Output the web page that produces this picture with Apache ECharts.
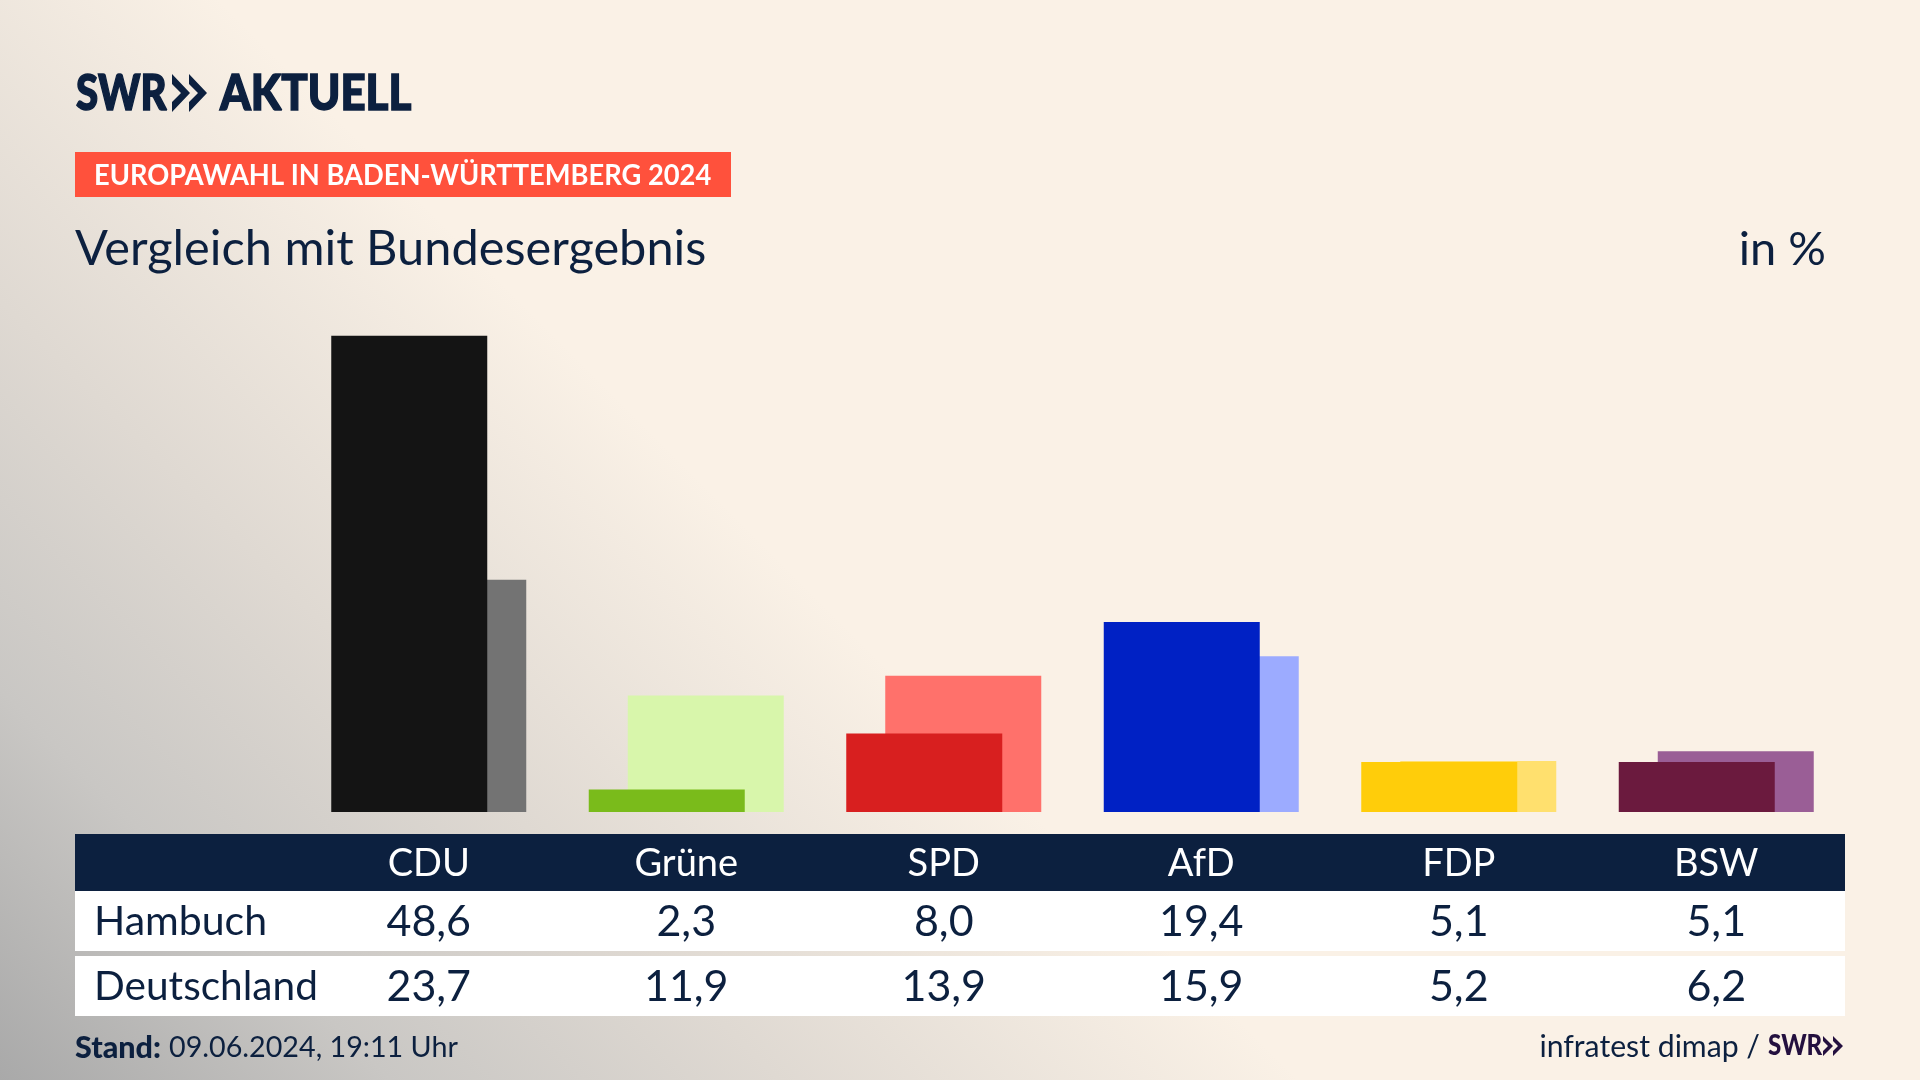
<!DOCTYPE html>
<html>
<head>
<meta charset="utf-8">
<script src="https://cdn.jsdelivr.net/npm/echarts@6/dist/echarts.min.js"></script>
<style>
html, body { margin: 0; padding: 0; }
#main { width: 1920px; height: 1080px; }
</style>
</head>
<body>
<div id="main"></div>
<script>
var categories = ['CDU', 'Grüne', 'SPD', 'AfD', 'FDP', 'BSW'];
var hambuch = [48.6, 2.3, 8.0, 19.4, 5.1, 5.1];
var deutschland = [23.7, 11.9, 13.9, 15.9, 5.2, 6.2];
var frontColors = ['#141414', '#7abb1b', '#d81f1f', '#0021c4', '#ffcd0a', '#6b1a3e'];
var backColors = ['#737373', '#d8f6ab', '#ff716b', '#9cabff', '#ffe06e', '#9a5e96'];

var navy = '#0c203f';
var font = 'Lato';

function fmt(v) {
    return v.toFixed(1).replace('.', ',');
}

var myChart = echarts.init(document.getElementById('main'), null, { renderer: 'canvas' });

// Tabelle als zusaetzliche x-Achsen, damit die Spalten zu den Balken passen
function tableAxis(offset, fontSize, formatter, color) {
    return {
        type: 'category',
        gridIndex: 0,
        position: 'bottom',
        offset: offset,
        data: categories,
        axisLine: { show: false },
        axisTick: { show: false },
        axisLabel: {
            show: true,
            interval: 0,
            margin: 0,
            verticalAlign: 'middle',
            fontFamily: font,
            fontSize: fontSize,
            color: color,
            formatter: formatter
        }
    };
}

var option = {
    backgroundColor: new echarts.graphic.LinearGradient(0, 1080, 650, 430, [
        { offset: 0, color: '#a9a9a9' },
        { offset: 0.3, color: '#c9c7c4' },
        { offset: 0.6, color: '#dfd9d2' },
        { offset: 1, color: '#faf1e6' }
    ], true),
    animation: false,
    grid: { left: 300, right: 75, top: 322, bottom: 268 },
    yAxis: { type: 'value', min: 0, max: 50, show: false },
    xAxis: [
        { type: 'category', data: categories, axisLine: { show: false }, axisTick: { show: false }, axisLabel: { show: false } },
        tableAxis(52, 38, function (v) { return v; }, '#ffffff'),
        tableAxis(110, 43, function (v, i) { return fmt(hambuch[i]); }, navy),
        tableAxis(175, 43, function (v, i) { return fmt(deutschland[i]); }, navy)
    ],
    series: [
        {
            name: 'Hambuch',
            type: 'bar',
            z: 3,
            barWidth: 156,
            barGap: '-75%',
            data: hambuch.map(function (v, i) {
                return { value: v, itemStyle: { color: frontColors[i] } };
            })
        },
        {
            name: 'Deutschland',
            type: 'bar',
            z: 2,
            barWidth: 156,
            data: deutschland.map(function (v, i) {
                return { value: v, itemStyle: { color: backColors[i] } };
            })
        }
    ],
    graphic: [
        // Tabelle
        { type: 'rect', z: -1, shape: { x: 75, y: 834, width: 1770, height: 57 }, style: { fill: navy } },
        { type: 'rect', z: -1, shape: { x: 75, y: 891, width: 1770, height: 60 }, style: { fill: '#ffffff' } },
        { type: 'rect', z: -1, shape: { x: 75, y: 956, width: 1770, height: 60 }, style: { fill: '#ffffff' } },
        { type: 'text', x: 94, y: 922, style: { text: 'Hambuch', font: '41px ' + font, fill: navy, textVerticalAlign: 'middle' } },
        { type: 'text', x: 94, y: 987, style: { text: 'Deutschland', font: '40.6px ' + font, fill: navy, textVerticalAlign: 'middle' } },
        // Kopf
        { type: 'text', x: 76, y: 94, scaleX: 0.82, style: { text: 'SWR', font: '900 49px ' + font, fill: navy, stroke: navy, lineWidth: 1.5, textVerticalAlign: 'middle' } },
        { type: 'polygon', shape: { points: [[172, 74], [190, 93], [172, 112], [172, 102], [181, 93], [172, 84]] }, style: { fill: navy } },
        { type: 'polygon', shape: { points: [[189, 74], [207, 93], [189, 112], [189, 102], [198, 93], [189, 84]] }, style: { fill: navy } },
        { type: 'text', x: 220, y: 94, scaleX: 0.895, style: { text: 'AKTUELL', font: '900 49px ' + font, fill: navy, stroke: navy, lineWidth: 1.5, textVerticalAlign: 'middle' } },
        { type: 'rect', shape: { x: 75, y: 152, width: 656, height: 45 }, style: { fill: '#ff513c' } },
        { type: 'text', x: 94, y: 176, scaleX: 0.975, style: { text: 'EUROPAWAHL IN BADEN-WÜRTTEMBERG 2024', font: 'bold 28px ' + font, fill: '#ffffff', textVerticalAlign: 'middle' } },
        { type: 'text', x: 75, y: 250, scaleX: 1.015, style: { text: 'Vergleich mit Bundesergebnis', font: '48px ' + font, fill: navy, textVerticalAlign: 'middle' } },
        { type: 'text', x: 1826, y: 250, style: { text: 'in %', font: '47px ' + font, fill: navy, textAlign: 'right', textVerticalAlign: 'middle' } },
        // Fuss
        { type: 'text', x: 75, y: 1048, style: { text: 'Stand:', font: '900 30.5px ' + font, fill: navy, textVerticalAlign: 'middle' } },
        { type: 'text', x: 169, y: 1048, style: { text: '09.06.2024, 19:11 Uhr', font: '28.7px ' + font, fill: navy, textVerticalAlign: 'middle' } },
        { type: 'text', x: 1760, y: 1047, style: { text: 'infratest dimap /', font: '30.2px ' + font, fill: navy, textAlign: 'right', textVerticalAlign: 'middle' } },
        { type: 'text', x: 1768, y: 1046, scaleX: 0.86, style: { text: 'SWR', font: '900 28px ' + font, fill: '#24103f', textVerticalAlign: 'middle' } },
        { type: 'polygon', shape: { points: [[1823, 1036], [1833, 1046], [1823, 1056], [1823, 1051], [1828, 1046], [1823, 1041]] }, style: { fill: '#24103f' } },
        { type: 'polygon', shape: { points: [[1833, 1036], [1843, 1046], [1833, 1056], [1833, 1051], [1838, 1046], [1833, 1041]] }, style: { fill: '#24103f' } }
    ]
};

myChart.setOption(option);
</script>
</body>
</html>
